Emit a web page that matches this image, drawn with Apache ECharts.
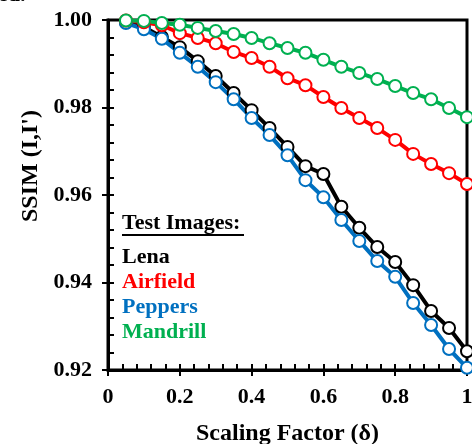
<!DOCTYPE html>
<html>
<head>
<meta charset="utf-8">
<script src="https://cdn.jsdelivr.net/npm/echarts@6/dist/echarts.min.js"></script>
<style>
  html, body { margin: 0; padding: 0; background: #fff; }
  #chart { width: 472px; height: 444px; }
</style>
</head>
<body>
<div id="chart"></div>
<script>
// Scaling factor sampled every 0.05
var scaling = [0.05, 0.10, 0.15, 0.20, 0.25, 0.30, 0.35, 0.40, 0.45, 0.50,
               0.55, 0.60, 0.65, 0.70, 0.75, 0.80, 0.85, 0.90, 0.95, 1.00];

// SSIM per test image
var lena     = [0.9995, 0.9984, 0.9961, 0.9938, 0.9906, 0.9872, 0.9833, 0.9794, 0.9753, 0.9710,
                0.9666, 0.9648, 0.9573, 0.9525, 0.9481, 0.9447, 0.9394, 0.9335, 0.9296, 0.9243];
var airfield = [0.9999, 0.9995, 0.9988, 0.9970, 0.9959, 0.9947, 0.9927, 0.9913, 0.9893, 0.9867,
                0.9851, 0.9824, 0.9799, 0.9776, 0.9753, 0.9726, 0.9694, 0.9671, 0.9650, 0.9625];
var peppers  = [0.9993, 0.9979, 0.9957, 0.9925, 0.9893, 0.9858, 0.9819, 0.9776, 0.9737, 0.9691,
                0.9634, 0.9595, 0.9543, 0.9495, 0.9449, 0.9413, 0.9353, 0.9303, 0.9248, 0.9205];
var mandrill = [0.9999, 0.9998, 0.9993, 0.9989, 0.9982, 0.9975, 0.9968, 0.9959, 0.9947, 0.9936,
                0.9925, 0.9909, 0.9893, 0.9879, 0.9865, 0.9849, 0.9833, 0.9819, 0.9799, 0.9778];

var xTicks = { min: 0, max: 1, step: 0.2 };
var yTicks = { min: 0.92, max: 1.00, step: 0.02 };

var names  = ['Lena', 'Airfield', 'Peppers', 'Mandrill'];
var colors = { Lena: '#000000', Airfield: '#ff0000', Peppers: '#0070c0', Mandrill: '#00b050' };
var values = { Lena: lena, Airfield: airfield, Peppers: peppers, Mandrill: mandrill };
// drawing order: later series sit on top
var drawOrder = ['Lena', 'Peppers', 'Airfield', 'Mandrill'];

var FONT = '"Liberation Serif", "Times New Roman", serif';

function pairs(arr) {
  return scaling.map(function (x, i) { return [x, arr[i]]; });
}

var series = drawOrder.map(function (n) {
  return {
    name: n,
    type: 'line',
    data: pairs(values[n]),
    xAxisIndex: 0,
    yAxisIndex: 0,
    symbol: 'circle',
    symbolSize: 12,
    lineStyle: { color: colors[n], width: 4 },
    itemStyle: { color: '#ffffff', borderColor: colors[n], borderWidth: 2 },
    emphasis: { disabled: true },
    animation: false
  };
});

// legend block drawn as text
var legendX = 122;
var graphics = [
  { type: 'text', left: -2, top: -16,
    style: { text: 'ed.', font: 'bold 22px ' + FONT, fill: '#000' } },
  { type: 'text', left: legendX, top: 212,
    style: { text: 'Test Images:', font: 'bold 22px ' + FONT, fill: '#000' } },
  { type: 'line', shape: { x1: legendX, y1: 235, x2: legendX + 122, y2: 235 },
    style: { stroke: '#000', lineWidth: 2 } }
];
names.forEach(function (n, i) {
  graphics.push({
    type: 'text', left: legendX, top: 246 + i * 25,
    style: { text: n, font: 'bold 22px ' + FONT, fill: colors[n] }
  });
});
graphics.push({
  type: 'text', x: 31, y: 166, rotation: Math.PI / 2,
  style: { text: "SSIM (I,I')", font: 'bold 24px ' + FONT, fill: '#000',
           align: 'center', verticalAlign: 'middle' }
});

var labelStyle = { fontFamily: FONT, fontWeight: 'bold', fontSize: 22, color: '#000' };

var option = {
  backgroundColor: '#ffffff',
  animation: false,
  grid: {
    left: 108, right: 5, top: 20, bottom: 74,
    outerBoundsMode: 'none',
    containLabel: false,
    show: true, borderColor: '#000', borderWidth: 3, backgroundColor: 'transparent'
  },
  xAxis: [
    {
      type: 'value', min: xTicks.min, max: xTicks.max, interval: xTicks.step,
      position: 'bottom',
      name: 'Scaling Factor (\u03b4)', nameLocation: 'middle', nameGap: 52,
      nameTextStyle: { fontFamily: FONT, fontWeight: 'bold', fontSize: 24, color: '#000' },
      axisLine: { lineStyle: { color: '#000', width: 3 } },
      axisTick: { show: true, inside: false, length: 6, lineStyle: { color: '#000', width: 2 } },
      axisLabel: Object.assign({ margin: 16 }, labelStyle),
      splitLine: { show: false }
    },
    {
      type: 'value', min: xTicks.min, max: xTicks.max, interval: xTicks.step,
      position: 'bottom', offset: 0,
      axisLine: { show: false },
      axisTick: { show: true, inside: true, length: 6, lineStyle: { color: '#000', width: 2 } },
      minorTick: { show: true, splitNumber: 5, length: 6, lineStyle: { color: '#000', width: 2 } },
      axisLabel: { show: false },
      splitLine: { show: false }
    }
  ],
  yAxis: [
    {
      type: 'value', min: yTicks.min, max: yTicks.max, interval: yTicks.step,
      position: 'left',
      axisLine: { show: true, lineStyle: { color: '#000', width: 3 } },
      axisTick: { show: true, inside: false, length: 6, lineStyle: { color: '#000', width: 2 } },
      axisLabel: Object.assign({ margin: 16, formatter: function (v) { return v.toFixed(2); } }, labelStyle),
      splitLine: { show: false }
    },
    {
      type: 'value', min: yTicks.min, max: yTicks.max, interval: yTicks.step,
      position: 'left', offset: 0,
      axisLine: { show: false },
      axisTick: { show: true, inside: true, length: 6, lineStyle: { color: '#000', width: 2 } },
      minorTick: { show: true, splitNumber: 5, length: 6, lineStyle: { color: '#000', width: 2 } },
      axisLabel: { show: false },
      splitLine: { show: false }
    }
  ],
  graphic: graphics,
  series: series
};

var chart = echarts.init(document.getElementById('chart'), null, { renderer: 'canvas' });
chart.setOption(option);
</script>
</body>
</html>
